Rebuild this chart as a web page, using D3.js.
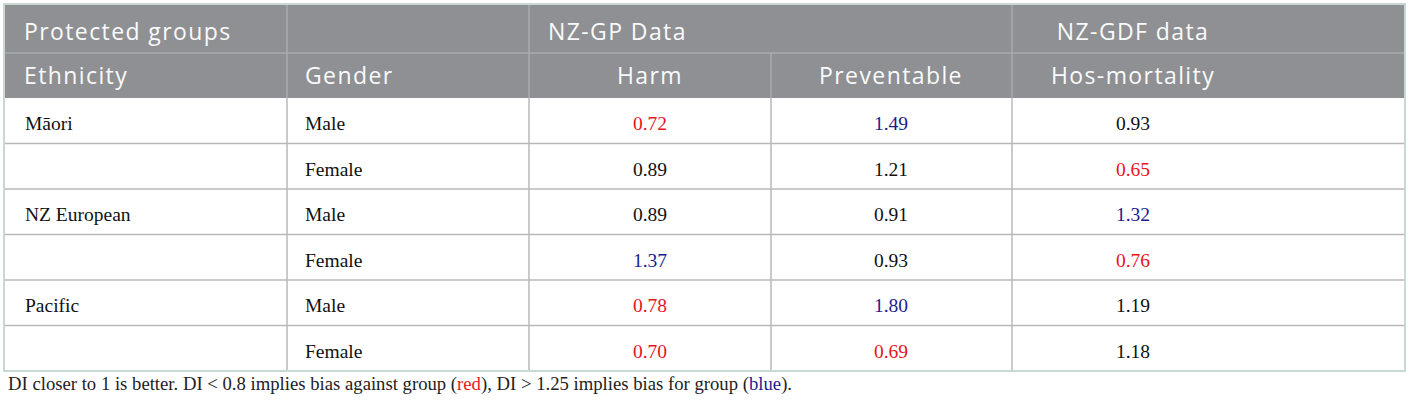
<!DOCTYPE html>
<html>
<head>
<meta charset="utf-8">
<script src="https://cdn.jsdelivr.net/npm/d3@7"></script>
<style>
  body { margin: 0; background: #fff; }
</style>
</head>
<body>
<div id="table"></div>
<script>
// table contents
var ethnicities = ["Māori", "", "NZ European", "", "Pacific", ""];
var genders = ["Male", "Female", "Male", "Female", "Male", "Female"];
var harm = [0.72, 0.89, 0.89, 1.37, 0.78, 0.70];
var preventable = [1.49, 1.21, 0.91, 0.93, 1.80, 0.69];
var hosMortality = [0.93, 0.65, 1.32, 0.76, 1.19, 1.18];
var subHeaders = ["Ethnicity", "Gender", "Harm", "Preventable", "Hos-mortality"];
var caption = [
    {text: "DI closer to 1 is better. DI < 0.8 implies bias against group (", color: "#222"},
    {text: "red", color: "#e8141b"},
    {text: "), DI > 1.25 implies bias for group (", color: "#222"},
    {text: "blue", color: "#1c1c8e"},
    {text: ").", color: "#222"}
];

var width = 1410, height = 405;
var colEdges = [4, 287, 529, 771, 1012, 1405];
var valueCenters = [650, 891, 1133];
var tableTop = 4, head1 = 53, head2 = 98, tableBottom = 371;

function valueColor(v) {
    if (v < 0.8) return "#e8141b";
    if (v > 1.25) return "#1c1c8e";
    return "#111";
}

var svg = d3.select("#table").append("svg")
    .attr("width", width)
    .attr("height", height);

var rows = d3.scaleBand().domain(d3.range(genders.length)).range([head2, tableBottom]);

// header background
svg.append("rect")
    .attr("x", colEdges[0]).attr("y", tableTop)
    .attr("width", colEdges[5] - colEdges[0]).attr("height", head2 - tableTop)
    .attr("fill", "#8e9093");

// header grid
var headLine = "#a9abae";
svg.append("line").attr("x1", colEdges[0]).attr("x2", colEdges[5])
    .attr("y1", head1).attr("y2", head1)
    .attr("stroke", headLine).attr("stroke-width", 1.5);
[1, 2, 4].forEach(function (c) {
    svg.append("line").attr("x1", colEdges[c]).attr("x2", colEdges[c])
        .attr("y1", tableTop).attr("y2", head1)
        .attr("stroke", headLine).attr("stroke-width", 1.5);
});
[1, 2, 3, 4].forEach(function (c) {
    svg.append("line").attr("x1", colEdges[c]).attr("x2", colEdges[c])
        .attr("y1", head1).attr("y2", head2)
        .attr("stroke", headLine).attr("stroke-width", 1.5);
});

// body grid
var gridColor = "#b8b8b8";
svg.selectAll("line.hrow")
    .data(d3.range(1, genders.length))
    .enter().append("line")
    .attr("class", "hrow")
    .attr("x1", colEdges[0]).attr("x2", colEdges[5])
    .attr("y1", function (d) { return rows(d); })
    .attr("y2", function (d) { return rows(d); })
    .attr("stroke", gridColor).attr("stroke-width", 1.5);
svg.selectAll("line.vcol")
    .data([1, 2, 3, 4])
    .enter().append("line")
    .attr("class", "vcol")
    .attr("x1", function (d) { return colEdges[d]; })
    .attr("x2", function (d) { return colEdges[d]; })
    .attr("y1", head2).attr("y2", tableBottom)
    .attr("stroke", gridColor).attr("stroke-width", 1.5);

// outer border
svg.append("rect")
    .attr("x", colEdges[0]).attr("y", tableTop)
    .attr("width", colEdges[5] - colEdges[0]).attr("height", tableBottom - tableTop)
    .attr("fill", "none")
    .attr("stroke", "#c9d8d3").attr("stroke-width", 2);

// header texts
var headFont = "'Open Sans', sans-serif";
function headText(x, y, txt, anchor) {
    svg.append("text")
        .attr("x", x).attr("y", y)
        .attr("text-anchor", anchor)
        .attr("font-family", headFont)
        .attr("font-size", 23)
        .attr("letter-spacing", 1.4)
        .attr("fill", "#fafafa")
        .text(txt);
}
headText(24, 40, "Protected groups", "start");
headText(548, 40, "NZ-GP Data", "start");
headText(1133, 40, "NZ-GDF data", "middle");
headText(24, 84, subHeaders[0], "start");
headText(305, 84, subHeaders[1], "start");
headText(valueCenters[0], 84, subHeaders[2], "middle");
headText(valueCenters[1], 84, subHeaders[3], "middle");
headText(valueCenters[2], 84, subHeaders[4], "middle");

// body texts
var bodyFont = "'Liberation Serif', 'Times New Roman', serif";
var body = svg.append("g")
    .attr("font-family", bodyFont)
    .attr("font-size", 19.5);

body.selectAll("text.eth")
    .data(ethnicities)
    .enter().append("text")
    .attr("x", 25)
    .attr("y", function (d, i) { return rows(i) + 32; })
    .attr("fill", "#111")
    .text(function (d) { return d; });

body.selectAll("text.gen")
    .data(genders)
    .enter().append("text")
    .attr("x", 305)
    .attr("y", function (d, i) { return rows(i) + 32; })
    .attr("fill", "#111")
    .text(function (d) { return d; });

[harm, preventable, hosMortality].forEach(function (series, c) {
    body.selectAll("text.v" + c)
        .data(series)
        .enter().append("text")
        .attr("x", valueCenters[c])
        .attr("y", function (d, i) { return rows(i) + 32; })
        .attr("text-anchor", "middle")
        .attr("fill", valueColor)
        .text(function (d) { return d.toFixed(2); });
});

// caption
var cap = svg.append("text")
    .attr("x", 8).attr("y", 390)
    .attr("font-family", bodyFont)
    .attr("font-size", 18.7);
cap.selectAll("tspan")
    .data(caption)
    .enter().append("tspan")
    .attr("fill", function (d) { return d.color; })
    .text(function (d) { return d.text; });
</script>
</body>
</html>
